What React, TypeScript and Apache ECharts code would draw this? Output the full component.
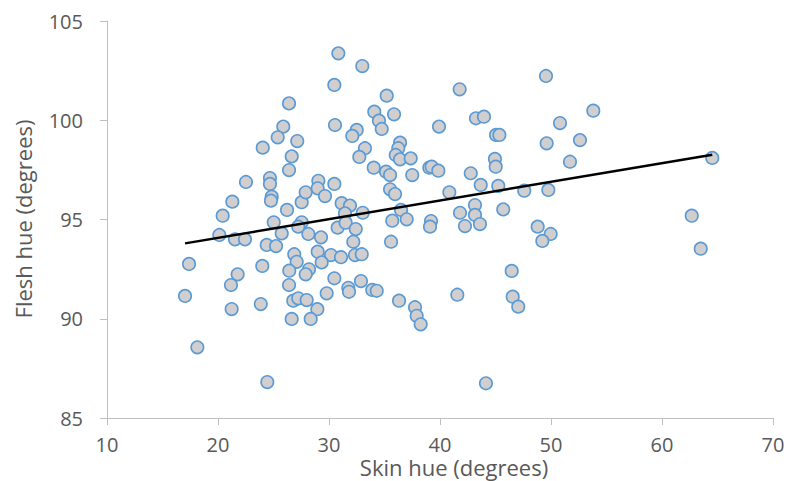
import React, { useEffect, useRef } from "react";
import * as echarts from "echarts";

const skinHue: number[] = [
  26.4, 25.88, 25.38, 27.14, 24.03, 26.64, 26.4, 22.52, 24.68, 24.68, 24.84, 24.77, 21.29, 26.22, 27.54, 27.9, 29.04, 28.98,
  30.84, 33.0, 30.48, 35.2, 41.77, 34.08, 35.86, 34.5, 34.75, 30.54, 39.91, 32.5, 32.1, 33.24, 32.73, 36.4, 36.24, 36.01, 36.4,
  37.36, 34.03, 35.14, 35.5, 37.5, 39.04, 39.25, 39.85, 30.48, 29.64, 31.14, 31.89, 33.04, 31.44, 35.5, 35.95, 40.84, 41.8, 36.49,
  49.55, 53.81, 43.24, 43.96, 50.81, 45.05, 45.35, 49.61, 52.61, 44.95, 45.02, 51.71, 42.77, 43.67, 45.25, 47.59, 49.76, 43.15, 45.7,
  20.42, 25.02, 27.54, 27.23, 20.12, 21.53, 22.43, 25.74, 28.14, 24.39, 25.23, 17.39, 21.77, 21.17, 23.99, 26.87, 27.09, 26.42,
  28.2, 27.9, 28.98, 26.4, 26.78, 27.23, 27.99, 28.95, 17.03, 21.23, 23.85, 26.64, 28.35, 18.14, 24.44,
  35.7, 37.0, 39.19, 39.1, 42.25, 30.78, 31.5, 32.41, 29.28, 32.19, 35.59, 30.18, 31.08, 32.34, 32.95, 29.34, 30.48, 29.79,
  31.74, 31.8, 32.88, 33.9, 34.3, 36.31, 37.75, 37.9, 38.26, 41.56,
  43.15, 43.6, 48.8, 49.97, 49.22, 46.46, 46.55, 47.05, 44.14,
  64.53, 62.68, 63.49,
];

const fleshHue: number[] = [
  100.85, 99.68, 99.14, 98.95, 98.62, 98.18, 97.49, 96.89, 97.09, 96.79, 96.15, 95.95, 95.9, 95.48, 95.87, 96.37, 96.95, 96.57,
  103.37, 102.73, 101.78, 101.24, 101.56, 100.43, 100.3, 99.98, 99.56, 99.76, 99.68, 99.51, 99.21, 98.59, 98.15, 98.87, 98.59, 98.25, 98.03,
  98.08, 97.61, 97.41, 97.24, 97.24, 97.61, 97.66, 97.46, 96.79, 96.18, 95.82, 95.7, 95.34, 95.31, 96.52, 96.28, 96.37, 95.34, 95.48,
  102.23, 100.48, 100.1, 100.18, 99.86, 99.26, 99.26, 98.84, 99.0, 98.05, 97.66, 97.91, 97.33, 96.74, 96.69, 96.45, 96.49, 95.73, 95.51,
  95.19, 94.86, 94.86, 94.64, 94.22, 94.0, 94.0, 94.3, 94.27, 93.72, 93.66, 92.76, 92.24, 91.7, 92.66, 93.25, 92.87, 92.42,
  92.49, 92.24, 93.38, 91.7, 90.91, 91.03, 90.94, 90.48, 91.15, 90.49, 90.74, 89.99, 89.99, 88.56, 86.81,
  94.94, 95.01, 94.92, 94.64, 94.67, 94.59, 94.84, 94.52, 94.1, 93.88, 93.88, 93.21, 93.1, 93.21, 93.25, 92.84, 92.04, 91.28,
  91.56, 91.36, 91.9, 91.45, 91.41, 90.91, 90.58, 90.15, 89.72, 91.21,
  95.23, 94.77, 94.64, 94.27, 93.92, 92.41, 91.11, 90.61, 86.75,
  98.1, 95.19, 93.53,
];

const xTitle = "Skin hue (degrees)";
const yTitle = "Flesh hue (degrees)";

function linearTrend(xs: number[], ys: number[]): number[][] {
  const n = xs.length;
  let sx = 0, sy = 0, sxx = 0, sxy = 0;
  for (let i = 0; i < n; i++) {
    sx += xs[i]; sy += ys[i]; sxx += xs[i] * xs[i]; sxy += xs[i] * ys[i];
  }
  const slope = (n * sxy - sx * sy) / (n * sxx - sx * sx);
  const icpt = (sy - slope * sx) / n;
  const x0 = Math.min(...xs);
  const x1 = Math.max(...xs);
  return [[x0, icpt + slope * x0], [x1, icpt + slope * x1]];
}

export default function App() {
  const ref = useRef<HTMLDivElement>(null);
  useEffect(() => {
    if (!ref.current) return;
    const chart = echarts.init(ref.current, undefined, { renderer: "svg" });
    const font = "'Open Sans', sans-serif";
    const axisColor = "#BFBFBF";
    const textColor = "#595959";
    const points = skinHue.map((x, i) => [x, fleshHue[i]]);
    chart.setOption({
      animation: false,
      backgroundColor: "#FFFFFF",
      grid: { left: 107, right: 17, top: 21, bottom: 63, containLabel: false },
      xAxis: {
        type: "value",
        min: 10,
        max: 70,
        interval: 10,
        axisLine: { show: true, lineStyle: { color: axisColor, width: 1 } },
        axisTick: { show: true, length: 7, lineStyle: { color: axisColor } },
        splitLine: { show: false },
        axisLabel: { color: textColor, fontFamily: font, fontSize: 20, lineHeight: 16, margin: 18 },
      },
      yAxis: {
        type: "value",
        min: 85,
        max: 105,
        interval: 5,
        axisLine: { show: true, lineStyle: { color: axisColor, width: 1 } },
        axisTick: { show: true, length: 7, lineStyle: { color: axisColor } },
        splitLine: { show: false },
        axisLabel: { color: textColor, fontFamily: font, fontSize: 20, margin: 24 },
      },
      graphic: [
        {
          type: "text",
          x: 454,
          y: 467,
          style: {
            text: xTitle,
            fill: textColor,
            font: `22px ${font}`,
            lineHeight: 18,
            textAlign: "center",
            textVerticalAlign: "middle",
          },
        },
        {
          type: "text",
          x: 23,
          y: 219,
          rotation: Math.PI / 2,
          style: {
            text: yTitle,
            fill: textColor,
            font: `22px ${font}`,
            textAlign: "center",
            textVerticalAlign: "middle",
          },
        },
      ],
      series: [
        {
          type: "scatter",
          data: points,
          symbol: "circle",
          symbolSize: 12.5,
          itemStyle: { color: "#D0CECE", borderColor: "#5B9BD5", borderWidth: 1.6, opacity: 1 },
          z: 2,
        },
        {
          type: "line",
          data: linearTrend(skinHue, fleshHue),
          symbol: "none",
          lineStyle: { color: "#000000", width: 2.5 },
          z: 3,
        },
      ],
    });
    return () => chart.dispose();
  }, []);
  return <div ref={ref} style={{ width: 790, height: 481, position: "absolute", left: 0, top: 0 }} />;
}
